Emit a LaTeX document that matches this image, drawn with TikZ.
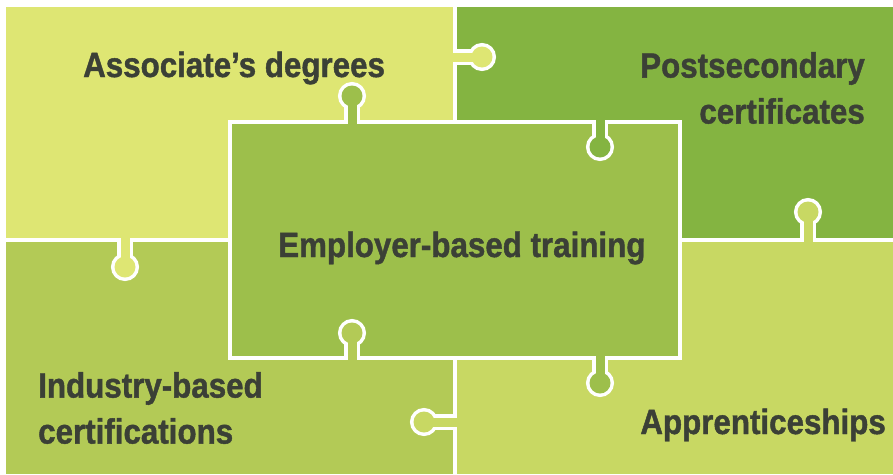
\documentclass[tikz,border=0pt]{standalone}
\usepackage{fontspec}
\newfontfamily\puzzlefont{Liberation Sans}[FakeStretch=0.895, BoldFeatures={FakeBold=1.2}]
\usetikzlibrary{calc}

\definecolor{assoc}{HTML}{DEE673}
\definecolor{postsec}{HTML}{84B441}
\definecolor{employ}{HTML}{9DBF4B}
\definecolor{industry}{HTML}{B3CA56}
\definecolor{appr}{HTML}{C8D863}
\definecolor{labelgray}{HTML}{3B4036}

\tikzset{
  seam/.style={draw=white, line width=3.5pt},
  piecelabel/.style={inner sep=0pt, text=labelgray,
    font=\puzzlefont\bfseries\fontsize{35}{46}\selectfont},
}

% knob: point on the seam, centre of the round head, colour of the piece
\newcommand{\knob}[3]{%
  \draw[white, line width=16pt] (#1) -- (#2);
  \draw[white, line width=7pt] (#2) circle[radius=10.5pt];
  \draw[#3, line width=9pt] ($(#1)!-3pt!(#2)$) -- (#2);
  \fill[#3] (#2) circle[radius=10.5pt];
}

\begin{document}
\begin{tikzpicture}[x=1pt, y=-1pt]
    \useasboundingbox (0,0) rectangle (893,474);

    % pieces
    \fill[assoc] (6,7) rectangle (455,240);
    \fill[postsec] (455,7) rectangle (893,240);
    \fill[industry] (6,240) rectangle (455,474);
    \fill[appr] (455,240) rectangle (893,474);
    \fill[employ] (230,122) rectangle (680,358);

    \draw[seam] (455,7) -- (455,122) (455,358) -- (455,474)
        (6,240) -- (230,240) (680,240) -- (893,240)
        (230,122) rectangle (680,358);

    % knobs
    \knob{352,122}{352,96}{employ}
    \knob{455,57}{482,57}{assoc}
    \knob{600,122}{600,147}{postsec}
    \knob{808,240}{808,212}{appr}
    \knob{125,240}{125,267}{assoc}
    \knob{352,358}{352,333}{industry}
    \knob{600,358}{600,383}{employ}
    \knob{455,422}{424,422}{appr}

    \node[piecelabel, anchor=base west] (assocdeg) at (83,77) {Associate’s degrees};
    \node[piecelabel, anchor=north east, align=right] (postcert) at (865,52) {Postsecondary\\certificates};
    \node[piecelabel, anchor=base west] (training) at (278,257) {Employer-based training};
    \node[piecelabel, anchor=north west, align=left] (indcert) at (38,372) {Industry-based\\certifications};
    \node[piecelabel, anchor=base east] (apprent) at (886,434) {Apprenticeships};

\end{tikzpicture}
\end{document}
